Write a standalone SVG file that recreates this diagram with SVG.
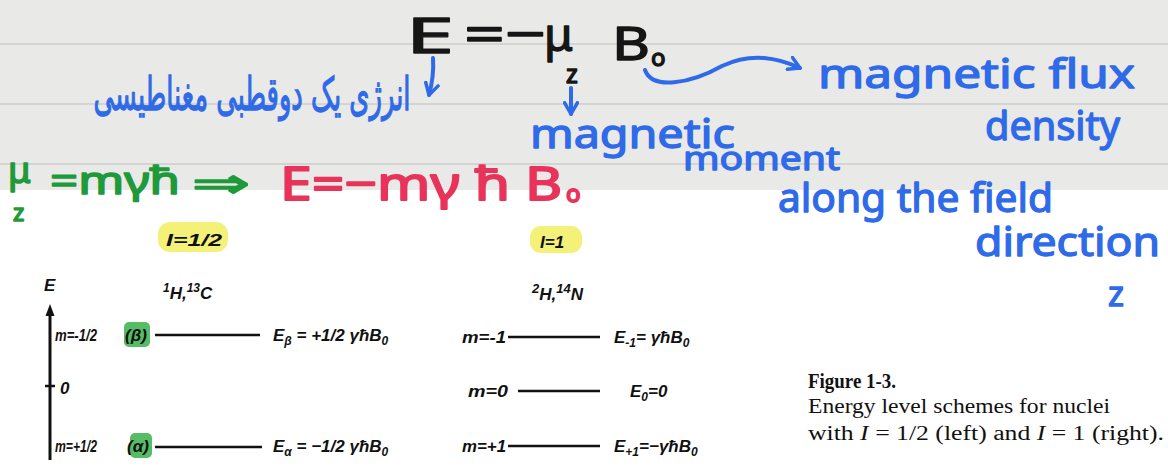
<svg xmlns="http://www.w3.org/2000/svg" width="1168" height="466" viewBox="0 0 1168 466">
<style>
.hw{font-family:"Noto Sans","DejaVu Sans",sans-serif;stroke-linejoin:round}
.fa{font-family:"DejaVu Sans",sans-serif}
.blue{fill:#2f6ae8;stroke:#2f6ae8;stroke-width:1.3}
.blk{fill:#161616;stroke:#161616;stroke-width:1.4}
.grn{fill:#1f9a3a;stroke:#1f9a3a;stroke-width:1.6}
.red{fill:#e8335a;stroke:#e8335a;stroke-width:1.8}
.fig{font-family:"Liberation Sans",sans-serif;font-style:italic;fill:#111;font-size:17px;font-weight:bold}
.cap{font-family:"Liberation Serif",serif;fill:#111;font-size:20px}
.rule{stroke:#cdcdcb;stroke-width:1.3}
.lvl{stroke:#111;stroke-width:2.4}
.hly{fill:#f2ef62;opacity:0.85}
.hlg{fill:#38b04a;opacity:0.85}
.arr{fill:none;stroke:#2f6ae8;stroke-width:4;stroke-linecap:round;stroke-linejoin:round}
</style>
<defs>
<marker id="ah" viewBox="0 0 10 10" refX="8" refY="5" markerWidth="4" markerHeight="4" orient="auto">
<path d="M1,1 L8,5 L1,9" fill="none" stroke="#2f6ae8" stroke-width="2.2" stroke-linecap="round" stroke-linejoin="round"/>
</marker>
</defs>
<rect width="1168" height="466" fill="#ffffff"/>
<rect width="1168" height="190" fill="#e9e9e7"/>
<line class="rule" x1="0" y1="44" x2="1168" y2="44"/>
<line class="rule" x1="0" y1="104" x2="1168" y2="104"/>
<line class="rule" x1="0" y1="164" x2="1168" y2="164"/>

<!-- handwritten black equation -->
<g id="eq-main" class="hw blk">
<text x="406" y="53" font-size="50" textLength="48" lengthAdjust="spacingAndGlyphs">E</text>
<text x="464" y="52" font-size="50" textLength="82" lengthAdjust="spacingAndGlyphs">=−</text>
<text x="544" y="51" font-size="46">μ</text>
<text x="566" y="83" font-size="25">z</text>
<text x="612" y="60" font-size="46" textLength="38" lengthAdjust="spacingAndGlyphs">B</text>
<text x="651" y="66" font-size="24">o</text>
</g>

<!-- blue annotations -->
<g id="connectors">
<path class="arr" d="M433,58 C434,72 432,84 429,95" marker-end="url(#ah)"/>
<path class="arr" d="M571,88 L571,114" marker-end="url(#ah)"/>
<path class="arr" d="M645,70 C652,90 690,84 722,66 C752,52 778,58 800,68" marker-end="url(#ah)"/>
</g>
<g id="note-fa" class="fa blue">
<text transform="translate(252,110) scale(0.56,1)" x="0" y="0" font-size="46" text-anchor="middle" direction="rtl">انرژی یک دوقطبی مغناطیسی</text>
</g>
<g id="note-flux" class="hw blue">
<text x="818" y="88" font-size="40" textLength="317" lengthAdjust="spacingAndGlyphs">magnetic flux</text>
<text x="985" y="140" font-size="40" textLength="135" lengthAdjust="spacingAndGlyphs">density</text>
</g>
<g id="note-moment" class="hw blue">
<text x="530" y="148" font-size="40" textLength="205" lengthAdjust="spacingAndGlyphs">magnetic</text>
<text x="683" y="170" font-size="32" textLength="157" lengthAdjust="spacingAndGlyphs">moment</text>
<text x="778" y="212" font-size="40" textLength="275" lengthAdjust="spacingAndGlyphs">along the field</text>
<text x="975" y="256" font-size="40" textLength="185" lengthAdjust="spacingAndGlyphs">direction</text>
<text x="1108" y="306" font-size="34">z</text>
</g>

<!-- green and red equations -->
<g id="eq-green" class="hw grn">
<text x="8" y="183" font-size="36">μ</text>
<text x="13" y="221" font-size="24">z</text>
<text x="50" y="194" font-size="38" textLength="130" lengthAdjust="spacingAndGlyphs">=mγħ</text>
<text x="192" y="197" font-size="40" textLength="58" lengthAdjust="spacingAndGlyphs">⇒</text>
</g>
<g id="eq-red" class="hw red">
<text x="280" y="200" font-size="46" textLength="282" lengthAdjust="spacingAndGlyphs">E=−mγ ħ B</text>
<text x="566" y="202" font-size="24">o</text>
</g>

<!-- highlights -->
<rect class="hly" x="158" y="222" width="70" height="30" rx="12"/>
<rect class="hly" x="530" y="226" width="52" height="27" rx="11"/>
<rect class="hlg" x="124" y="322" width="26" height="25" rx="5"/>
<rect class="hlg" x="130" y="433" width="22" height="25" rx="5"/>

<!-- left scheme I=1/2 -->
<g id="scheme-left">
<text class="fig" x="166" y="246" font-size="19" textLength="56" lengthAdjust="spacingAndGlyphs">I=1/2</text>
<text class="fig" x="44" y="291" font-size="15">E</text>
<text class="fig" x="163" y="299" font-size="19"><tspan font-size="12" dy="-7">1</tspan><tspan dy="7">H,</tspan><tspan font-size="12" dy="-7">13</tspan><tspan dy="7">C</tspan></text>
<line x1="50" y1="460" x2="50" y2="314" stroke="#111" stroke-width="3"/>
<path d="M50,304 L45.5,316 L54.5,316 Z" fill="#111"/>
<line x1="45" y1="386" x2="55" y2="386" stroke="#111" stroke-width="2.5"/>
<text class="fig" x="55" y="341" textLength="42" lengthAdjust="spacingAndGlyphs">m=-1/2</text>
<text class="fig" x="125" y="341">(β)</text>
<line class="lvl" x1="155" y1="335" x2="260" y2="335"/>
<text class="fig" x="273" y="341" font-size="18">E<tspan font-size="12" dy="4">β</tspan><tspan dy="-4"> = +1/2 γħB</tspan><tspan font-size="12" dy="4">0</tspan></text>
<text class="fig" x="60" y="394">0</text>
<text class="fig" x="55" y="452" textLength="42" lengthAdjust="spacingAndGlyphs">m=+1/2</text>
<text class="fig" x="127" y="452">(α)</text>
<line class="lvl" x1="155" y1="447" x2="262" y2="447"/>
<text class="fig" x="273" y="452" font-size="18">E<tspan font-size="12" dy="4">α</tspan><tspan dy="-4"> = −1/2 γħB</tspan><tspan font-size="12" dy="4">0</tspan></text>
</g>

<!-- right scheme I=1 -->
<g id="scheme-right">
<text class="fig" x="540" y="248" font-size="19">I=1</text>
<text class="fig" x="532" y="300" font-size="20"><tspan font-size="13" dy="-7">2</tspan><tspan dy="7">H,</tspan><tspan font-size="13" dy="-7">14</tspan><tspan dy="7">N</tspan></text>
<text class="fig" x="462" y="343" textLength="44" lengthAdjust="spacingAndGlyphs">m=-1</text>
<line class="lvl" x1="508" y1="337" x2="600" y2="337"/>
<text class="fig" x="614" y="343" font-size="18">E<tspan font-size="12" dy="4">-1</tspan><tspan dy="-4">= γħB</tspan><tspan font-size="12" dy="4">0</tspan></text>
<text class="fig" x="468" y="397" textLength="40" lengthAdjust="spacingAndGlyphs">m=0</text>
<line class="lvl" x1="518" y1="391" x2="600" y2="391"/>
<text class="fig" x="630" y="397" font-size="18">E<tspan font-size="12" dy="4">0</tspan><tspan dy="-4">=0</tspan></text>
<text class="fig" x="462" y="452" textLength="44" lengthAdjust="spacingAndGlyphs">m=+1</text>
<line class="lvl" x1="508" y1="446" x2="600" y2="446"/>
<text class="fig" x="614" y="452" font-size="18">E<tspan font-size="12" dy="4">+1</tspan><tspan dy="-4">=−γħB</tspan><tspan font-size="12" dy="4">0</tspan></text>
</g>

<!-- caption -->
<g id="caption">
<text class="cap" x="808" y="388" font-weight="bold" textLength="88" lengthAdjust="spacingAndGlyphs">Figure 1-3.</text>
<text class="cap" x="808" y="413" textLength="302" lengthAdjust="spacingAndGlyphs">Energy level schemes for nuclei</text>
<text class="cap" x="808" y="440" textLength="356" lengthAdjust="spacingAndGlyphs">with <tspan font-style="italic">I</tspan> = 1/2 (left) and <tspan font-style="italic">I</tspan> = 1 (right).</text>
</g>
</svg>
